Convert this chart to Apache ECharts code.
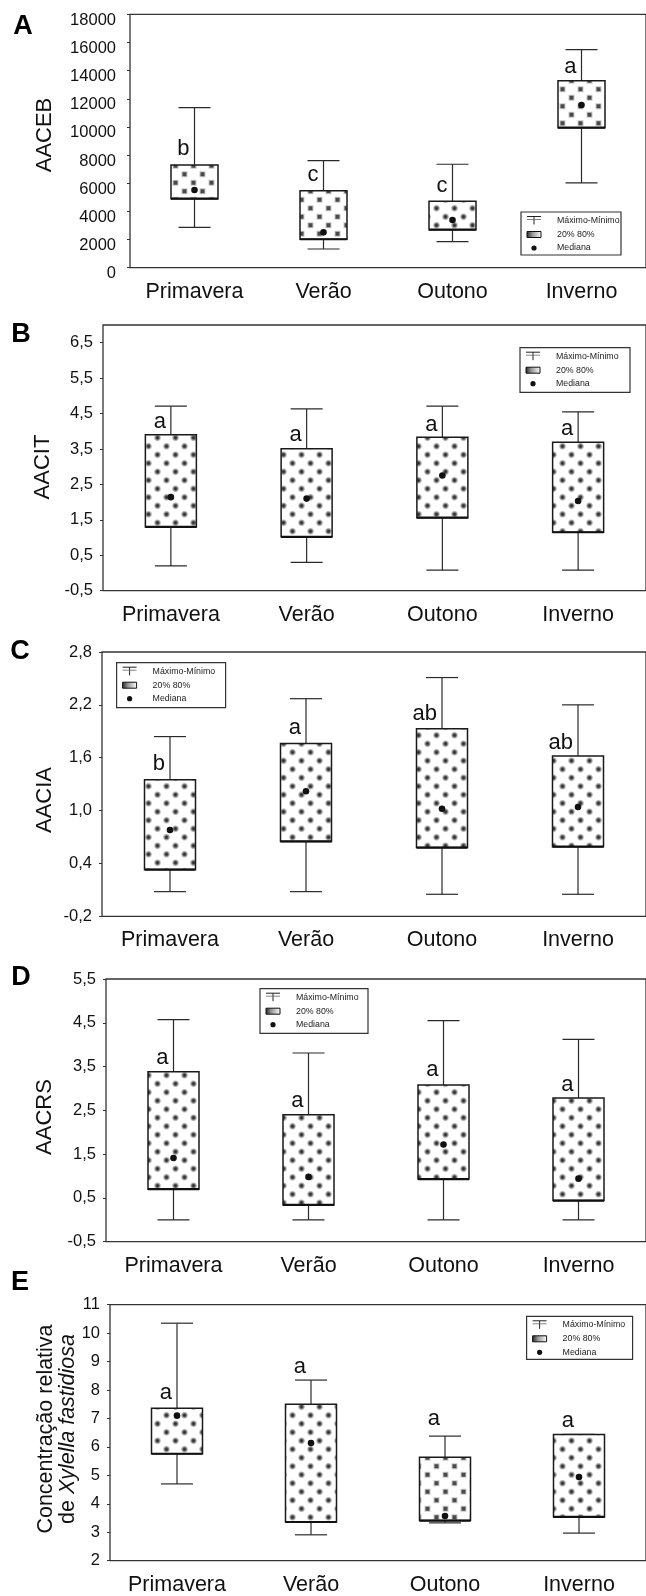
<!DOCTYPE html>
<html><head><meta charset="utf-8">
<script src="https://cdn.jsdelivr.net/npm/echarts@6/dist/echarts.min.js"></script>
<style>html,body{margin:0;padding:0;background:#fff}#c{width:646px;height:1596px}</style>
</head><body><div id="c"></div>
<script>
const categories = ['Primavera', 'Verão', 'Outono', 'Inverno'];

// Panel A – AACEB
const aacebMin = [2870, 1330, 1850, 6020];
const aacebQ1 = [4900, 2020, 2700, 9950];
const aacebMedian = [5520, 2510, 3390, 11560];
const aacebQ3 = [7300, 5470, 4720, 13280];
const aacebMax = [11370, 7600, 7350, 15490];
const aacebLetters = ['b', 'c', 'c', 'a'];
const aacebLetterAt = [8430, 6590, 5830, 14280];
const aacebTicks = [0, 2000, 4000, 6000, 8000, 10000, 12000, 14000, 16000, 18000];

// Panel B – AACIT
const aacitMin = [0.20, 0.30, 0.08, 0.08];
const aacitQ1 = [1.30, 1.02, 1.56, 1.15];
const aacitMedian = [2.14, 2.10, 2.75, 2.03];
const aacitQ3 = [3.90, 3.51, 3.83, 3.69];
const aacitMax = [4.71, 4.63, 4.71, 4.55];
const aacitLetters = ['a', 'a', 'a', 'a'];
const aacitLetterAt = [4.27, 3.90, 4.18, 4.08];
const aacitTicks = [-0.5, 0.5, 1.5, 2.5, 3.5, 4.5, 5.5, 6.5];

// Panel C – AACIA
const aaciaMin = [0.08, 0.08, 0.05, 0.05];
const aaciaQ1 = [0.33, 0.65, 0.58, 0.59];
const aaciaMedian = [0.78, 1.22, 1.02, 1.04];
const aaciaQ3 = [1.35, 1.76, 1.93, 1.62];
const aaciaMax = [1.84, 2.27, 2.51, 2.20];
const aaciaLetters = ['b', 'a', 'ab', 'ab'];
const aaciaLetterAt = [1.53, 1.94, 2.10, 1.77];
const aaciaTicks = [-0.2, 0.4, 1.0, 1.6, 2.2, 2.8];

// Panel D – AACRS
const aacrsMin = [0.0, 0.0, 0.0, 0.0];
const aacrsQ1 = [0.70, 0.34, 0.93, 0.44];
const aacrsMedian = [1.41, 0.98, 1.72, 0.94];
const aacrsQ3 = [3.38, 2.40, 3.08, 2.78];
const aacrsMax = [4.57, 3.81, 4.55, 4.12];
const aacrsLetters = ['a', 'a', 'a', 'a'];
const aacrsLetterAt = [3.69, 2.71, 3.42, 3.09];
const aacrsTicks = [-0.5, 0.5, 1.5, 2.5, 3.5, 4.5, 5.5];

// Panel E – Xylella fastidiosa relative concentration
const xfMin = [4.70, 2.91, 3.33, 2.97];
const xfQ1 = [5.76, 3.36, 3.41, 3.54];
const xfMedian = [7.10, 6.14, 3.57, 4.94];
const xfQ3 = [7.36, 7.50, 5.64, 6.44];
const xfMax = [10.35, 8.35, 6.38, 6.44];
const xfLetters = ['a', 'a', 'a', 'a'];
const xfLetterAt = [7.89, 8.80, 6.98, 6.92];
const xfTicks = [2, 3, 4, 5, 6, 7, 8, 9, 10, 11];

const legendTexts = ['Máximo-Mínimo', '20% 80%', 'Mediana'];

const FONT = 'Liberation Sans, Arial, sans-serif';

function softDots() {
  const c = document.createElement('canvas'); c.width = 18; c.height = 17;
  const g = c.getContext('2d'); g.fillStyle = '#fff'; g.fillRect(0, 0, 18, 17);
  [[4.5, 4.25], [13.5, 12.75]].forEach(([x, y]) => {
    const gr = g.createRadialGradient(x, y, 0, x, y, 4.2);
    gr.addColorStop(0, 'rgba(35,35,35,1)');
    gr.addColorStop(0.35, 'rgba(70,70,70,0.95)');
    gr.addColorStop(0.7, 'rgba(150,150,150,0.6)');
    gr.addColorStop(1, 'rgba(255,255,255,0)');
    g.fillStyle = gr; g.beginPath(); g.arc(x, y, 4.2, 0, Math.PI * 2); g.fill();
  });
  return c;
}
function squareDots() {
  const c = document.createElement('canvas'); c.width = 18; c.height = 17;
  const g = c.getContext('2d'); g.fillStyle = '#fff'; g.fillRect(0, 0, 18, 17);
  [[4.5, 4.25], [13.5, 12.75]].forEach(([x, y]) => {
    g.fillStyle = '#c8c8c8'; g.fillRect(x - 3, y - 3, 6, 6);
    g.fillStyle = '#4a4a4a'; g.fillRect(x - 2, y - 2, 4, 4);
  });
  return c;
}
const PAT_SOFT = { image: softDots(), repeat: 'repeat' };
const PAT_SQ = { image: squareDots(), repeat: 'repeat' };

const fmtComma = v => v.toFixed(1).replace('.', ',');
const fmtInt = v => String(Math.round(v));

const panels = [
  { tag: 'A', title: 'AACEB', grid: { left: 130, top: 14.3, width: 525, height: 253.4 }, min: 0, max: 18000,
    ticks: aacebTicks, fmt: fmtInt, shiftLabels: true, labelMargin: 14,
    mn: aacebMin, q1: aacebQ1, md: aacebMedian, q3: aacebQ3, mx: aacebMax, letters: aacebLetters, lat: aacebLetterAt,
    pats: [PAT_SQ, PAT_SQ, PAT_SOFT, PAT_SQ], boxW: 47,
    tagPos: [23, 27], titlePos: [44.5, 135], legend: [521, 212, 100, 43] },
  { tag: 'B', title: 'AACIT', grid: { left: 103, top: 325, width: 550, height: 265.7 }, min: -0.5, max: 7,
    ticks: aacitTicks, fmt: fmtComma, shiftLabels: false, labelMargin: 10,
    mn: aacitMin, q1: aacitQ1, md: aacitMedian, q3: aacitQ3, mx: aacitMax, letters: aacitLetters, lat: aacitLetterAt,
    pats: [PAT_SOFT, PAT_SOFT, PAT_SOFT, PAT_SOFT], boxW: 51,
    tagPos: [21, 335], titlePos: [43, 467], legend: [520, 347.7, 110, 44.6] },
  { tag: 'C', title: 'AACIA', grid: { left: 102, top: 652, width: 548, height: 264.3 }, min: -0.2, max: 2.8,
    ticks: aaciaTicks, fmt: fmtComma, shiftLabels: false, labelMargin: 10,
    mn: aaciaMin, q1: aaciaQ1, md: aaciaMedian, q3: aaciaQ3, mx: aaciaMax, letters: aaciaLetters, lat: aaciaLetterAt,
    pats: [PAT_SOFT, PAT_SOFT, PAT_SOFT, PAT_SOFT], boxW: 51,
    tagPos: [20, 652], titlePos: [44.5, 800], legend: [116.6, 662.7, 109, 45] },
  { tag: 'D', title: 'AACRS', grid: { left: 106, top: 979, width: 545.6, height: 262.7 }, min: -0.5, max: 5.5,
    ticks: aacrsTicks, fmt: fmtComma, shiftLabels: false, labelMargin: 10,
    mn: aacrsMin, q1: aacrsQ1, md: aacrsMedian, q3: aacrsQ3, mx: aacrsMax, letters: aacrsLetters, lat: aacrsLetterAt,
    pats: [PAT_SOFT, PAT_SOFT, PAT_SOFT, PAT_SOFT], boxW: 51,
    tagPos: [21, 978], titlePos: [44.5, 1117], legend: [260, 988.7, 108, 44.6] },
  { tag: 'E', title: null, grid: { left: 110, top: 1304.7, width: 542.4, height: 256 }, min: 2, max: 11,
    ticks: xfTicks, fmt: fmtInt, shiftLabels: false, labelMargin: 10,
    mn: xfMin, q1: xfQ1, md: xfMedian, q3: xfQ3, mx: xfMax, letters: xfLetters, lat: xfLetterAt,
    pats: [PAT_SOFT, PAT_SOFT, PAT_SQ, PAT_SOFT], boxW: 51,
    tagPos: [20, 1283], titlePos: [46, 1429], legend: [526.6, 1316.3, 106, 43] }
];

function renderFor(p) {
  return function (params, api) {
    const i = api.value(0);
    const pMin = api.coord([i, api.value(1)]);
    const pQ1 = api.coord([i, api.value(2)]);
    const pMd = api.coord([i, api.value(3)]);
    const pQ3 = api.coord([i, api.value(4)]);
    const pMax = api.coord([i, api.value(5)]);
    const pLet = api.coord([i, api.value(6)]);
    const x = pMin[0], bw = p.boxW, cw = 32;
    const ls = { stroke: '#2a2a2a', lineWidth: 1.2 };
    const children = [
      { type: 'line', shape: { x1: x, y1: pMax[1], x2: x, y2: pQ3[1] }, style: ls },
      { type: 'line', shape: { x1: x, y1: pQ1[1], x2: x, y2: pMin[1] }, style: ls },
      { type: 'line', shape: { x1: x - cw / 2, y1: pMax[1], x2: x + cw / 2, y2: pMax[1] }, style: ls },
      { type: 'line', shape: { x1: x - cw / 2, y1: pMin[1], x2: x + cw / 2, y2: pMin[1] }, style: ls },
      { type: 'rect', shape: { x: x - bw / 2, y: pQ3[1], width: bw, height: pQ1[1] - pQ3[1] },
        style: { fill: p.pats[params.dataIndex], stroke: '#1a1a1a', lineWidth: 1.5 } },
      { type: 'line', shape: { x1: x - bw / 2, y1: pQ1[1], x2: x + bw / 2, y2: pQ1[1] }, style: { stroke: '#111', lineWidth: 2.2 } },
      { type: 'circle', shape: { cx: pMd[0], cy: pMd[1], r: 3.3 }, style: { fill: '#111' } },
      { type: 'text', x: x - 5, y: pLet[1],
        style: { text: p.letters[params.dataIndex], font: '22px ' + FONT, fill: '#111', align: 'right', verticalAlign: 'middle' } }
    ];
    return { type: 'group', children };
  };
}

function legendGroup(l) {
  const [x, y, w, h] = l;
  const tx = 36;
  const rows = [8.5, 22.5, 36];
  const st = { stroke: '#222', lineWidth: 1 };
  const children = [
    { type: 'rect', shape: { x: 0, y: 0, width: w, height: h }, style: { fill: '#fff', stroke: '#333', lineWidth: 1.2 } },
    { type: 'line', shape: { x1: 6, y1: rows[0] - 4, x2: 20, y2: rows[0] - 4 }, style: st },
    { type: 'line', shape: { x1: 13, y1: rows[0] - 4, x2: 13, y2: rows[0] + 4 }, style: st },
    { type: 'line', shape: { x1: 6, y1: rows[0] - 1, x2: 20, y2: rows[0] - 1 }, style: { stroke: '#666', lineWidth: 0.8 } },
    { type: 'rect', shape: { x: 6, y: rows[1] - 3, width: 14, height: 6 },
      style: { stroke: '#111', lineWidth: 1, fill: { type: 'linear', x: 0, y: 0, x2: 1, y2: 0,
        colorStops: [{ offset: 0, color: '#222' }, { offset: 0.4, color: '#999' }, { offset: 1, color: '#fff' }] } } },
    { type: 'circle', shape: { cx: 13, cy: rows[2], r: 2.6 }, style: { fill: '#111' } }
  ];
  legendTexts.forEach((t, k) => children.push({ type: 'text', x: tx, y: rows[k],
    style: { text: t, font: '8.8px ' + FONT, fill: '#222', align: 'left', verticalAlign: 'middle' } }));
  return { type: 'group', x, y, z: 20, children };
}

const grids = [], xAxes = [], yAxes = [], series = [], graphics = [];
panels.forEach((p, k) => {
  grids.push(Object.assign({ show: true, borderColor: '#333', borderWidth: 1.3, backgroundColor: 'transparent' }, p.grid));
  xAxes.push({ type: 'category', gridIndex: k, data: categories, boundaryGap: true,
    axisLine: { show: false }, axisTick: { show: false }, splitLine: { show: false },
    axisLabel: { margin: 13, fontSize: 21.5, color: '#111', fontFamily: FONT } });
  const yLabel = { customValues: p.ticks, formatter: p.fmt, margin: p.labelMargin, fontSize: 16.5, color: '#111', fontFamily: FONT };
  if (p.shiftLabels) { yLabel.verticalAlign = 'top'; yLabel.lineHeight = 12; }
  yAxes.push({ type: 'value', gridIndex: k, min: p.min, max: p.max, splitLine: { show: false },
    axisLine: { show: false },
    axisTick: { show: true, length: 3, customValues: p.ticks, lineStyle: { color: '#333', width: 1 } },
    axisLabel: yLabel });
  const data = categories.map((c, i) => [i, p.mn[i], p.q1[i], p.md[i], p.q3[i], p.mx[i], p.lat[i]]);
  series.push({ type: 'custom', xAxisIndex: k, yAxisIndex: k, renderItem: renderFor(p), data,
    encode: { x: 0, y: [1, 2, 3, 4, 5] }, clip: false, z: 5 });
  graphics.push({ type: 'text', x: p.tagPos[0], y: p.tagPos[1],
    style: { text: p.tag, font: 'bold 27px ' + FONT, fill: '#000', align: 'center', verticalAlign: 'middle' } });
  if (p.title) {
    graphics.push({ type: 'text', x: p.titlePos[0], y: p.titlePos[1], rotation: Math.PI / 2,
      style: { text: p.title, font: '22px ' + FONT, fill: '#111', align: 'center', verticalAlign: 'middle' } });
  } else {
    graphics.push({ type: 'text', x: 46, y: p.titlePos[1], rotation: Math.PI / 2,
      style: { text: 'Concentração relativa', font: '21.5px ' + FONT, fill: '#111', align: 'center', verticalAlign: 'middle' } });
    graphics.push({ type: 'text', x: 68, y: p.titlePos[1], rotation: Math.PI / 2,
      style: { text: 'de {i|Xylella fastidiosa}', font: '21.5px ' + FONT, fill: '#111', align: 'center', verticalAlign: 'middle',
        rich: { i: { fontStyle: 'italic', fontSize: 21.5, fontFamily: FONT, fill: '#111' } } } });
  }
  graphics.push(legendGroup(p.legend));
});

const chart = echarts.init(document.getElementById('c'), null, { renderer: 'canvas' });
chart.setOption({
  animation: false,
  backgroundColor: '#fff',
  grid: grids, xAxis: xAxes, yAxis: yAxes, series, graphic: graphics
});
</script></body></html>
